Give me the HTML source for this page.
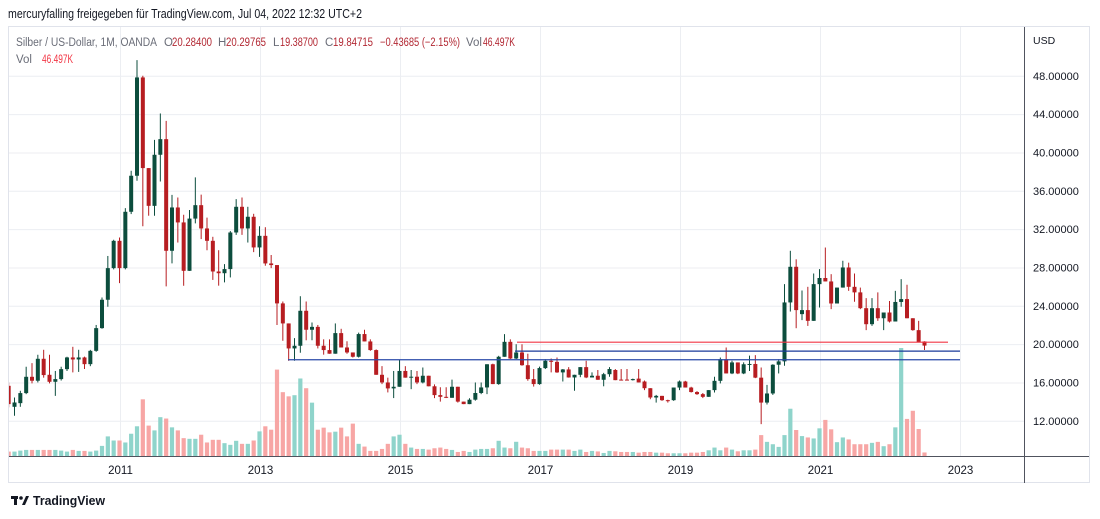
<!DOCTYPE html>
<html><head><meta charset="utf-8"><style>
html,body{margin:0;padding:0;background:#fff;width:1100px;height:519px;overflow:hidden}
svg{display:block}
text{font-family:"Liberation Sans",sans-serif}
</style></head><body>
<svg id="chart" width="1100" height="519" viewBox="0 0 1100 519" xmlns="http://www.w3.org/2000/svg">
<defs><clipPath id="pane"><rect x="9" y="27" width="1015" height="429"/></clipPath></defs>
<text x="8" y="18" font-size="12.5" fill="#131722" textLength="354" lengthAdjust="spacingAndGlyphs">mercuryfalling freigegeben für TradingView.com, Jul 04, 2022 12:32 UTC+2</text>
<rect x="8.5" y="26.5" width="1081" height="456" fill="none" stroke="#e0e3eb"/>
<g id="grid"></g>
<g id="vols" clip-path="url(#pane)"></g>
<g id="candles" clip-path="url(#pane)"></g>
<g id="levels"></g>
<line x1="1024.5" y1="27" x2="1024.5" y2="483" stroke="#50535e"/>
<line x1="9" y1="456.5" x2="1089" y2="456.5" stroke="#50535e"/>
<text x="1033" y="44" font-size="10.5" fill="#131722">USD</text>
<g id="yticks"></g>
<g id="xticks"></g>
<g font-size="11.5">
<text x="16" y="46" fill="#6a6d78" textLength="141" lengthAdjust="spacingAndGlyphs">Silber / US-Dollar, 1M, OANDA</text>
<text x="164" y="46" fill="#6a6d78">O</text><text x="172" y="46" fill="#b22833" textLength="40" lengthAdjust="spacingAndGlyphs">20.28400</text>
<text x="218" y="46" fill="#6a6d78">H</text><text x="226" y="46" fill="#b22833" textLength="40" lengthAdjust="spacingAndGlyphs">20.29765</text>
<text x="273" y="46" fill="#6a6d78">L</text><text x="280" y="46" fill="#b22833" textLength="38" lengthAdjust="spacingAndGlyphs">19.38700</text>
<text x="325" y="46" fill="#6a6d78">C</text><text x="333" y="46" fill="#b22833" textLength="40" lengthAdjust="spacingAndGlyphs">19.84715</text>
<text x="380" y="46" fill="#b22833" textLength="80" lengthAdjust="spacingAndGlyphs">−0.43685 (−2.15%)</text>
<text x="466" y="46" fill="#6a6d78">Vol</text><text x="483" y="46" fill="#b22833" textLength="32" lengthAdjust="spacingAndGlyphs">46.497K</text>
<text x="16" y="63" fill="#6a6d78">Vol</text><text x="42" y="63" fill="#f23645" textLength="31" lengthAdjust="spacingAndGlyphs">46.497K</text>
</g>
<g>
<rect x="11" y="496" width="7" height="3" fill="#131722"/><rect x="14" y="496" width="3" height="9" fill="#131722"/>
<circle cx="21" cy="498" r="1.8" fill="#131722"/><path d="M22 505 L26 496 L29 496 L25 505 Z" fill="#131722"/>
<text x="33" y="505" font-size="13" fill="#131722" font-weight="bold" textLength="72" lengthAdjust="spacingAndGlyphs">TradingView</text>
</g>
</svg>
<script>
// Monthly candles starting Jun 2009
const startMonth = -19; // months relative to Jan 2011
const open  = [15.65,13.46,13.84,14.89,16.59,16.18,18.47,16.8,16.07,16.35,17.39,18.61,18.4,18.61,17.91,19.3,21.67,24.63,27.93,30.78,27.93,33.81,37.57,47.83,38.37,34.43,39.76,41.39,29.74,34.26,32.7,27.65,33.1,34.5,32.07,30.78,27.58,27.4,27.83,31.65,34.33,32.07,33.29,30.09,31.3,28.42,28.25,24.25,22.16,19.55,19.83,23.48,21.5,21.8,19.83,19.38,19.0,21.15,19.65,19.13,18.68,21.05,20.28,19.38,16.8,16.0,15.38,15.55,17.2,16.5,16.6,16.0,16.7,15.6,14.68,14.5,14.4,15.55,14.0,13.74,14.2,14.9,15.48,17.9,15.83,18.68,20.24,18.5,19.13,17.8,16.35,15.83,17.5,18.26,18.15,17.05,17.36,16.52,16.8,17.6,16.52,16.7,16.28,16.86,17.3,16.3,16.3,16.24,16.4,16.1,15.4,14.43,14.6,14.15,14.15,15.47,16.1,15.47,15.0,14.78,14.5,15.2,16.17,18.43,16.94,18.09,16.94,17.9,17.93,16.5,13.9,14.85,17.85,18.2,24.35,28.07,23.13,23.55,22.43,26.26,26.9,26.54,24.24,25.9,28.0,25.98,25.4,23.75,22.08,23.75,22.7,23.3,22.36,24.4,24.7,22.7,21.46,20.28];
const high  = [16.0,14.43,15.13,17.64,18.02,18.89,19.41,18.89,17.2,17.64,18.68,19.72,19.41,18.7,19.4,22.0,24.87,29.2,30.89,31.13,34.19,38.09,49.64,48.0,38.37,41.32,44.07,43.3,35.58,35.3,33.5,34.0,37.4,35.6,33.2,31.2,29.8,28.35,31.8,35.13,35.3,34.33,33.6,32.3,32.2,29.3,28.25,24.45,22.16,20.63,25.0,24.45,22.26,22.0,20.5,20.5,22.16,21.6,20.3,19.13,21.2,21.5,20.5,19.45,17.7,16.5,17.2,18.4,17.7,17.3,17.2,17.56,16.7,15.8,15.5,15.5,16.3,15.55,14.0,14.35,16.0,16.0,17.9,17.96,18.78,21.04,20.5,19.99,19.99,19.0,17.4,17.65,18.43,18.5,18.61,17.4,17.6,16.8,17.6,18.26,17.05,17.3,17.0,17.6,17.4,17.4,17.4,16.4,17.4,16.2,15.4,14.7,14.6,14.2,15.47,16.2,16.17,15.55,15.1,14.9,15.2,16.6,18.6,19.65,18.26,18.09,18.1,18.8,18.85,17.56,15.75,17.9,18.43,26.26,29.74,28.85,25.6,25.98,27.37,27.83,30.08,27.3,25.9,28.7,28.5,27.37,25.9,24.8,24.8,25.4,23.3,24.5,25.56,26.78,26.2,22.7,22.43,20.3];
const low   = [13.4,12.52,13.46,14.78,15.9,16.0,16.5,15.9,14.6,16.2,17.2,17.05,17.1,17.4,17.7,19.2,21.6,23.9,27.8,26.37,27.8,33.57,37.05,32.3,33.4,33.4,36.97,26.02,28.42,30.6,26.09,27.65,32.6,30.96,29.8,26.7,26.1,26.44,26.96,31.4,31.4,30.6,29.6,29.11,28.18,27.93,22.0,20.35,18.26,18.26,19.1,20.4,20.4,19.55,18.9,19.0,19.0,19.65,19.0,18.6,18.6,20.28,19.3,16.8,15.83,14.96,14.37,15.55,16.5,15.3,15.83,15.9,15.6,14.37,14.0,14.37,14.4,13.9,13.74,13.74,14.1,14.78,14.78,15.83,15.76,18.68,18.44,18.44,17.74,16.18,15.57,15.76,17.4,17.05,17.0,16.1,16.5,15.13,16.55,16.45,16.52,16.28,15.6,16.6,16.24,16.2,16.2,16.2,16.0,15.2,14.25,13.9,14.08,13.9,14.08,15.2,15.47,14.95,14.7,14.37,14.5,14.95,15.9,16.94,16.87,16.87,16.87,17.2,16.45,11.65,13.7,14.7,16.94,17.74,23.4,21.66,22.5,21.9,22.43,23.82,26.54,23.65,24.24,25.9,25.56,24.42,23.65,21.46,21.9,22.43,21.46,22.26,22.36,23.9,22.7,21.4,20.17,19.387];
const close = [13.74,13.91,14.89,16.59,16.18,18.47,16.77,16.07,16.35,17.39,18.61,18.4,18.61,17.91,19.3,21.67,24.63,27.93,30.78,27.93,33.81,37.57,47.83,38.37,34.43,39.76,41.39,29.74,34.26,32.7,27.65,33.1,34.5,32.07,30.78,27.58,27.4,27.83,31.65,34.33,32.07,33.29,30.09,31.3,28.42,28.25,24.25,22.16,19.55,19.83,23.48,21.5,21.8,19.83,19.38,19.0,21.15,19.65,19.13,18.68,21.05,20.28,19.38,16.8,16.0,15.38,15.55,17.2,16.5,16.6,16.0,16.7,15.6,14.68,14.5,14.4,15.55,14.0,13.74,14.2,14.9,15.48,17.9,15.83,18.68,20.24,18.5,19.13,17.8,16.35,15.83,17.5,18.26,18.15,17.05,17.36,16.52,16.8,17.6,16.52,16.7,16.28,16.86,17.4,16.24,16.24,16.24,16.35,16.0,15.4,14.43,14.6,14.15,14.08,15.47,16.1,15.47,15.0,14.78,14.5,15.2,16.17,18.43,16.94,18.09,16.94,17.9,17.93,16.5,13.9,14.85,17.85,18.2,24.35,28.07,23.55,23.55,22.43,26.26,26.9,26.54,24.24,25.9,28.0,25.98,25.4,23.75,22.08,23.75,22.7,23.3,22.36,24.4,24.7,22.7,21.46,20.17,19.847];
const volume = [58,58,71,80,80,80,80,80,80,71,58,80,67,67,58,71,133,258,204,204,178,293,391,746,400,337,511,493,377,337,235,226,226,280,178,213,213,169,147,200,160,160,204,324,391,346,1137,840,785,800,1020,892,702,346,373,311,320,373,258,426,160,124,67,67,93,160,258,280,160,111,93,93,84,102,111,93,80,53,67,53,84,93,93,102,200,111,102,187,111,102,67,67,67,84,84,84,84,67,84,53,67,60,40,67,62,53,53,53,44,53,53,44,44,36,36,36,36,44,44,53,75,111,75,111,84,62,75,75,84,275,186,155,120,275,622,342,262,244,231,364,475,351,182,244,218,155,155,155,173,186,129,155,377,1421,488,595,355,46.5];
const priceTicks = [12,16,20,24,28,32,36,40,44,48];
const yearLabels = ["2011","2013","2015","2017","2019","2021","2023"];
const yearOffsets = [0,24,48,72,96,120,144]; // months from Jan 2011
const levelPrices = [20.2, 19.27, 18.37];

const NS = "http://www.w3.org/2000/svg";
function yP(p){ return 75.8 + (48 - p) * 9.583; }
function xM(m){ return 120 + m * 70 / 12; }
function yV(v){ return 456 - v * 0.076; }
function mk(tag, attrs, parent){ const e = document.createElementNS(NS, tag); for (const k in attrs) e.setAttribute(k, attrs[k]); parent.appendChild(e); return e; }

const grid = document.getElementById('grid');
const yt = document.getElementById('yticks');
priceTicks.forEach(p => {
  const l = mk('line', {x1:9, x2:1024, y1:yP(p)+0.5, y2:yP(p)+0.5, stroke:'#eceef2'}, grid);
  
  
  const t = mk('text', {x:1033, y:yP(p)+4, 'font-size':11, fill:'#131722'}, yt);
  t.textContent = p.toFixed(5);
  
  
});
const xt = document.getElementById('xticks');
yearLabels.forEach((lab, i) => {
  const x = Math.round(xM(yearOffsets[i])) + 0.5;
  const l = mk('line', {x1:x, x2:x, y1:27, y2:456, stroke:'#eceef2'}, grid);
  
  
  const t = mk('text', {x:x, y:474, 'font-size':11.5, fill:'#131722', 'text-anchor':'middle'}, xt);
  t.textContent = lab;
  
  
});

const vg = document.getElementById('vols');
const cg = document.getElementById('candles');
for (let k = 0; k < close.length; k++) {
  const x = xM(startMonth + k) - 0.5;
  const up = close[k] >= open[k];
  const vb = mk('rect', {x:x-2.1, y:yV(volume[k]), width:4.2, height:456 - yV(volume[k]), fill: up ? '#8fd4cb' : '#f7a6a5'}, vg);
  
  
  const col = up ? '#0c4d3d' : '#b71d21';
  const w = mk('line', {x1:x, x2:x, y1:yP(high[k]), y2:yP(low[k]), stroke:col, 'stroke-width':1}, cg);
  
  
  const top = yP(Math.max(open[k], close[k]));
  const h = Math.max(1, yP(Math.min(open[k], close[k])) - top);
  const b = mk('rect', {x:x-2, y:top, width:4, height:h, fill:col}, cg);
  
  
}

const lg = document.getElementById('levels');
const l1 = mk('line', {x1:517, x2:948, y1:yP(levelPrices[0]), y2:yP(levelPrices[0]), stroke:'#f23645', 'stroke-width':1.2}, lg);


const l2 = mk('line', {x1:515, x2:960, y1:yP(levelPrices[1]), y2:yP(levelPrices[1]), stroke:'#1a3a9a', 'stroke-width':1.2}, lg);


const l3 = mk('line', {x1:288, x2:960, y1:yP(levelPrices[2]), y2:yP(levelPrices[2]), stroke:'#2a4aa8', 'stroke-width':1.3}, lg);


</script>
</body></html>
